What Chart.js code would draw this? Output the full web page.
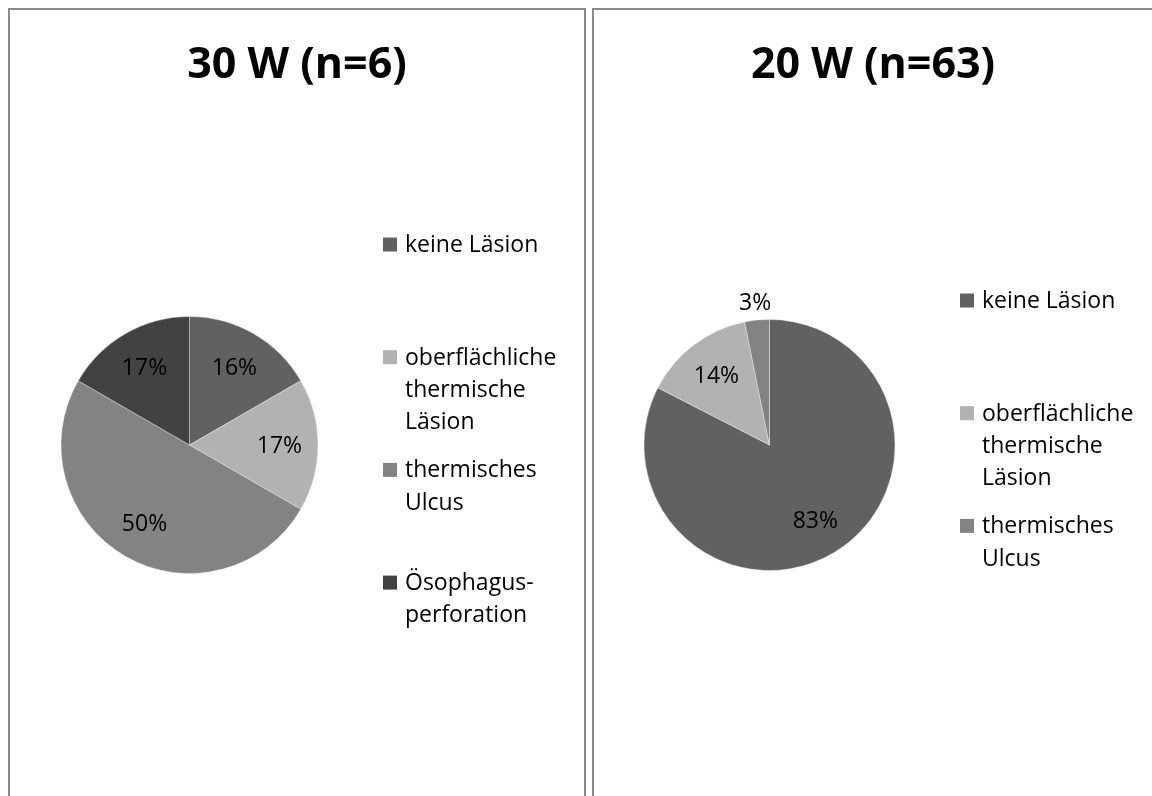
<!DOCTYPE html>
<html>
<head>
<meta charset="utf-8">
<script src="https://cdn.jsdelivr.net/npm/chart.js@4.4.0/dist/chart.umd.min.js"></script>
<style>
  html, body { margin: 0; padding: 0; background: #fff; overflow: hidden; width: 1152px; height: 796px; }
  .panel { position: absolute; top: 8px; height: 800px; box-sizing: border-box; border: 2px solid #8a8a8a; background: #fff; }
  #p30 { left: 8px; width: 578px; }
  #p20 { left: 592px; width: 562px; }
  .panel canvas { display: block; }
</style>
</head>
<body>
<div class="panel" id="p30"><canvas id="chart30" width="574" height="796"></canvas></div>
<div class="panel" id="p20"><canvas id="chart20" width="558" height="796"></canvas></div>

<script>
// --- data ---
const cats30 = ['keine Läsion', 'oberflächliche\nthermische\nLäsion', 'thermisches\nUlcus', 'Ösophagus-\nperforation'];
const counts30 = [1, 1, 3, 1];
const pct30 = ['16%', '17%', '50%', '17%'];

const cats20 = ['keine Läsion', 'oberflächliche\nthermische\nLäsion', 'thermisches\nUlcus'];
const counts20 = [52, 9, 2];
const pct20 = ['83%', '14%', '3%'];

const grays = ['#616161', '#b2b2b2', '#838383', '#424242'];

// title, % labels and the wrapped legend, drawn onto the chart canvas
const panelDecor = {
  id: 'panelDecor',
  afterDraw(chart, args, opts) {
    const ctx = chart.ctx;
    const meta = chart.getDatasetMeta(0);
    ctx.save();
    ctx.fillStyle = '#000';
    ctx.textBaseline = 'alphabetic';

    // title
    ctx.font = 'bold 43px "Open Sans"';
    ctx.textAlign = 'center';
    ctx.fillText(opts.title, chart.width / 2, opts.titleY);

    // percentage labels
    ctx.font = '23px "Open Sans"';
    meta.data.forEach((arc, i) => {
      const p = arc.getProps(['x', 'y', 'startAngle', 'endAngle', 'outerRadius'], true);
      const mid = (p.startAngle + p.endAngle) / 2;
      const share = (p.endAngle - p.startAngle) / (2 * Math.PI);
      const r = share < 0.05 ? p.outerRadius + 18.5 : p.outerRadius * 0.7;
      ctx.fillText(opts.pct[i], p.x + Math.cos(mid) * r, p.y + Math.sin(mid) * r + 8);
    });

    // legend
    ctx.textAlign = 'left';
    chart.data.labels.forEach((lab, i) => {
      const base = opts.legendY + i * 112.7;
      ctx.fillStyle = chart.data.datasets[0].backgroundColor[i];
      ctx.fillRect(opts.legendX, base - 14.5, 14, 14);
      ctx.fillStyle = '#000';
      lab.split('\n').forEach((line, j) => {
        ctx.fillText(line, opts.legendX + 22, base + j * 32.3);
      });
    });
    ctx.restore();
  }
};

const makePie = (id, labels, counts, pct, title, padding, legendX, legendY) => {
  new Chart(document.getElementById(id), {
    type: 'pie',
    data: {
      labels,
      datasets: [{
        data: counts,
        backgroundColor: grays.slice(0, counts.length),
        borderColor: 'rgba(255,255,255,0.35)',
        borderWidth: 1,
        hoverOffset: 0,
        offset: 0
      }]
    },
    options: {
      responsive: false,
      devicePixelRatio: 1,
      animation: false,
      events: [],
      layout: { padding },
      plugins: {
        legend: { display: false },
        title: { display: false },
        tooltip: { enabled: false },
        panelDecor: { title, titleY: 68, pct, legendX, legendY }
      }
    },
    plugins: [panelDecor]
  });
};

makePie('chart30', cats30, counts30, pct30, '30 W (n=6)',
  { left: 50.5, right: 265.5, top: 306, bottom: 232 }, 373, 242);
makePie('chart20', cats20, counts20, pct20, '20 W (n=63)',
  { left: 49.5, right: 256.5, top: 309, bottom: 235 }, 366, 298);
</script>
</body>
</html>
